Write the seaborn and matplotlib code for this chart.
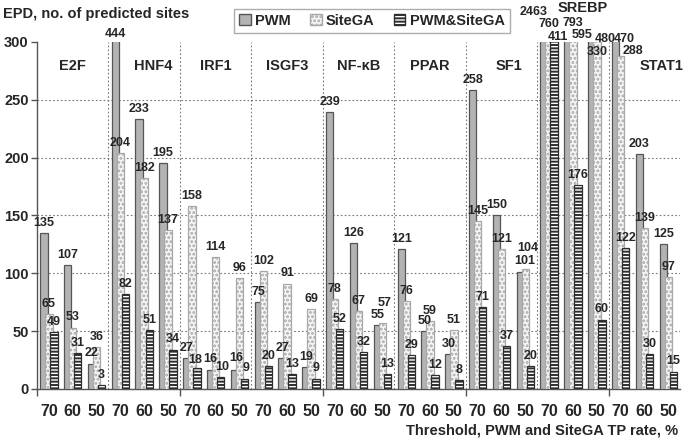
import numpy as np
import pandas as pd
import seaborn as sns
import matplotlib.pyplot as plt
from matplotlib.patches import Patch

# data
factors = ['E2F', 'HNF4', 'IRF1', 'ISGF3', 'NF-\u03baB', 'PPAR', 'SF1', 'SREBP', 'STAT1']
thresholds = ['70', '60', '50']
methods = ['PWM', 'SiteGA', 'PWM&SiteGA']

pwm = [135, 107, 22, 444, 233, 195, 27, 16, 16, 75, 27, 19, 239, 126, 55,
       121, 50, 30, 258, 150, 101, 2463, 793, 480, 470, 203, 125]
sitega = [65, 53, 36, 204, 182, 137, 158, 114, 96, 102, 91, 69, 78, 67, 57,
          76, 59, 51, 145, 121, 104, 760, 595, 330, 288, 139, 97]
both = [49, 31, 3, 82, 51, 34, 18, 10, 9, 20, 13, 9, 52, 32, 13,
        29, 12, 8, 71, 37, 20, 411, 176, 60, 122, 30, 15]

slots = [f'{f}-{t}' for f in factors for t in thresholds]
df = pd.DataFrame({
    'slot': slots * 3,
    'method': np.repeat(methods, len(slots)),
    'count': pwm + sitega + both,
})

# label tweaks for crowded / cut-off bars: (slot index, method) -> (dx, y)
label_moves = {
    (3, 0): (0.0, 307), (21, 0): (-0.45, 326), (21, 1): (0.0, 315),
    (21, 2): (0.15, 304), (22, 0): (0.2, 316), (22, 1): (0.4, 306),
    (23, 0): (0.55, 302), (23, 1): (0.0, 291), (24, 0): (0.35, 302),
    (24, 1): (0.5, 292),
    (14, 0): (0.0, 64), (14, 1): (0.1, 74),
    (20, 0): (0.2, 111), (20, 1): (0.1, 122),
    (6, 2): (-0.05, 25), (7, 0): (0.0, 26), (7, 2): (0.05, 19),
    (8, 0): (0.07, 27), (8, 2): (0.07, 18),
}
title_shift = {'HNF4': 0.4, 'SF1': 0.3, 'SREBP': 0.4, 'STAT1': 0.7}

sns.set_theme(style='white')
plt.rcParams['font.family'] = ['Liberation Sans', 'DejaVu Sans']
plt.rcParams['font.weight'] = 'bold'
plt.rcParams['hatch.linewidth'] = 1.4

fig = plt.figure(figsize=(6.85, 4.4), dpi=100)
ax = fig.add_axes([0.054, 0.116, 0.939, 0.789])

face = {'PWM': '#b3b3b3', 'SiteGA': '#f6f6f6', 'PWM&SiteGA': '#ffffff'}
edge = {'PWM': '#555555', 'SiteGA': '#a8a8a8', 'PWM&SiteGA': '#2e2e2e'}
hatch = {'PWM': None, 'SiteGA': '....', 'PWM&SiteGA': '-----'}

sns.barplot(data=df, x='slot', y='count', hue='method', order=slots,
            hue_order=methods, palette=face, errorbar=None, legend=False,
            ax=ax, zorder=3)

offsets = [-0.21, 0.0, 0.21]
width = 0.31
for m, (meth, cont) in enumerate(zip(methods, ax.containers)):
    for i, bar in enumerate(cont):
        bar.set_width(width)
        bar.set_x(i + offsets[m] - width / 2)
        bar.set_edgecolor(edge[meth])
        bar.set_linewidth(0.9)
        if hatch[meth]:
            bar.set_hatch(hatch[meth])
        val = df['count'].iloc[m * len(slots) + i]
        if (i, m) in label_moves:
            dx, yy = label_moves[(i, m)]
            ax.text(i + offsets[m] + dx, yy, str(val), ha='center', va='center',
                    fontsize=9, fontweight='bold', clip_on=False, zorder=5)
        else:
            ax.annotate(str(val), (i + offsets[m], val), xytext=(0, 3),
                        textcoords='offset points', ha='center', va='bottom',
                        fontsize=9, fontweight='bold', zorder=5)

ax.set_ylim(0, 300)
ax.set_xlim(-0.5, len(slots) - 0.5)
ax.set_yticks(range(0, 301, 50))
ax.set_xticks(range(len(slots)))
ax.set_xticklabels(thresholds * len(factors))
ax.tick_params(axis='x', length=0, pad=11, labelsize=11.5)
ax.tick_params(axis='y', length=4, width=1, direction='out', left=True,
               labelsize=10.5, pad=2, color='#555555')
ax.set_xticks([-0.5, 5.5, 11.5, 17.5, 23.5], minor=True)
ax.tick_params(axis='x', which='minor', length=5, width=1, bottom=True,
               direction='out', color='#555555')
for lab in ax.get_xticklabels() + ax.get_yticklabels():
    lab.set_fontweight('bold')

for y in range(50, 300, 50):
    ax.axhline(y, color='#777777', lw=0.8, ls=(0, (1.5, 2)), zorder=0)
for g in range(1, len(factors)):
    ax.axvline(g * 3 - 0.5, color='#777777', lw=0.8, ls=(0, (1.5, 2)), zorder=0)

for g, name in enumerate(factors):
    yy = 329 if name == 'SREBP' else 279
    ax.text(g * 3 + 1 + title_shift.get(name, 0), yy, name, ha='center',
            va='center', fontsize=10.5, fontweight='bold', clip_on=False)

for side in ['top', 'right']:
    ax.spines[side].set_visible(False)
for side in ['left', 'bottom']:
    ax.spines[side].set_color('#555555')
    ax.spines[side].set_linewidth(1.0)
ax.set_xlabel('')
ax.set_ylabel('')

fig.text(0.005, 0.968, 'EPD, no. of predicted sites', ha='left', va='center',
         fontsize=10.5, fontweight='bold')
fig.text(0.99, 0.022, 'Threshold, PWM and SiteGA TP rate, %', ha='right',
         va='center', fontsize=10.5, fontweight='bold')

handles = [Patch(facecolor=face[m], edgecolor=edge[m], hatch=hatch[m], label=m)
           for m in methods]
fig.legend(handles=handles, loc='upper left', bbox_to_anchor=(0.331, 0.997),
           ncol=3, frameon=True, fancybox=False, edgecolor='#999999',
           prop={'weight': 'bold', 'size': 10.5}, handlelength=0.8,
           handleheight=0.8, handletextpad=0.3, columnspacing=1.3,
           borderpad=0.35)

fig.savefig('out.png', dpi=100)
